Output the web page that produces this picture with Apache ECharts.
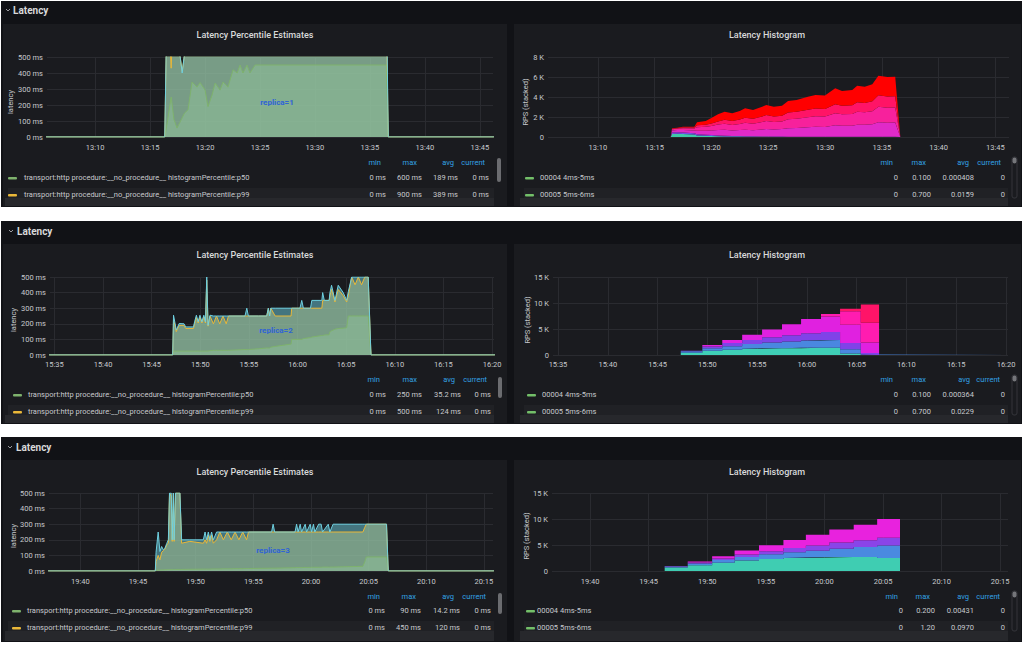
<!DOCTYPE html>
<html>
<head>
<meta charset="utf-8">
<title>Latency</title>
<script src="https://cdn.jsdelivr.net/npm/echarts@6/dist/echarts.min.js"></script>
<style>
html, body { margin: 0; padding: 0; background: #fff; }
#main { width: 1024px; height: 645px; }
</style>
</head>
<body>
<div id="main"></div>
<script>
// ---- replica=1 : latency percentiles (ms) ----
var lat1Time = ['13:05:00','13:16:20','13:16:33','13:16:55','13:17:10','13:17:27','13:17:42','13:17:55','13:18:08','13:18:27',
  '13:18:49','13:19:16','13:19:33','13:20:00','13:20:16','13:20:38','13:20:55','13:21:22','13:21:38','13:22:05',
  '13:22:33','13:22:55','13:23:11','13:23:27','13:23:49','13:24:05','13:24:33','13:36:30','13:36:40','13:47:00'];
var lat1P50 = [0,0,87,250,110,56,90,120,150,170, 344,312,340,293,190,262,337,293,344,312, 420,400,450,400,450,400,450,450,0,0];
var lat1P99 = [0,0,900,430,900,800,520,410,520,800, 850,800,820,800,780,800,820,800,850,800, 820,800,800,820,800,800,800,800,0,0];
var lat1P999 = [0,0,900,900,900,900,520,400,520,900, 900,900,900,900,900,900,900,900,900,900, 900,900,900,900,900,900,900,900,0,0];

// ---- replica=2 ----
var lat2Time = ['15:34:00','15:47:10','15:47:15','15:47:32','15:47:50','15:48:20','15:48:30','15:49:18','15:49:25','15:49:36',
  '15:49:47','15:49:58','15:50:10','15:50:22','15:50:32','15:50:40','15:50:48','15:51:00','15:51:21','15:51:40',
  '15:52:00','15:52:20','15:52:40','15:52:54','15:54:36','15:54:47','15:54:57','15:56:00','15:56:50','15:57:00',
  '15:57:08','15:57:15','15:57:42','15:59:20','15:59:24','16:00:15','16:00:26','16:00:36','16:01:20','16:01:28',
  '16:02:30','16:02:35','16:02:45','16:03:15','16:03:20','16:03:30','16:03:51','16:04:11','16:04:42','16:05:03',
  '16:05:13','16:05:34','16:05:55','16:06:15','16:06:35','16:06:55','16:07:16','16:07:33','16:21:00'];
var lat2P999 = [0,0,255,160,202,200,180,180,213,255, 213,255,213,255,213,500,190,255,250,250,
  250,250,250,250,250,300,250,250,250,300, 250,300,300,300,300,300,350,300,300,350,
  350,400,350,350,400,447,350,447,400,350, 405,500,500,500,500,500,500,0,0];
var lat2P99 = [0,0,230,150,190,190,170,170,200,240, 205,245,205,245,205,480,185,250,200,250,
  200,250,200,250,250,250,250,250,250,300, 250,300,250,250,300,300,300,300,300,300,
  300,350,350,350,380,420,340,420,380,340, 380,500,450,500,450,500,500,0,0];
var lat2P50 = [0,0,25,25,25,25,25,25,25,25, 25,25,25,25,25,25,25,28,30,30,
  30,30,30,30,35,35,35,40,45,45, 45,50,55,70,100,100,100,105,112,115,
  125,125,128,130,150,155,165,170,172,175, 250,250,250,250,250,250,250,0,0];

// ---- replica=3 ----
var lat3Time = ['19:37:00','19:46:30','19:46:34','19:46:45','19:46:54','19:47:03','19:47:12','19:47:20','19:47:30','19:47:38',
  '19:47:44','19:47:53','19:47:58','19:48:04','19:48:08','19:48:15','19:48:38','19:48:47','19:49:30','19:50:40',
  '19:50:49','19:50:57','19:51:06','19:51:14','19:51:23','19:51:32','19:51:49','19:52:06','19:52:24','19:52:45',
  '19:53:05','19:53:25','19:53:45','19:54:05','19:54:25','19:54:35','19:56:35','19:56:43','19:56:51','19:58:37',
  '19:58:45','19:58:53','19:59:04','19:59:11','19:59:30','19:59:37','19:59:56','20:00:03','20:00:13','20:00:20',
  '20:00:40','20:00:53','20:01:00','20:01:30','20:01:38','20:01:55','20:04:30','20:04:40','20:04:48','20:06:33',
  '20:06:42','20:16:00'];
var lat3P999 = [0,0,120,250,125,157,136,146,178,200, 500,500,200,500,200,500,500,200,200,200,
  250,200,250,200,250,200,250,250,250,250, 250,250,250,250,250,250,250,300,250,250,
  300,250,300,250,300,250,300,250,300,250, 300,300,250,300,250,300,300,300,300,300, 0,0];
var lat3P99 = [0,0,60,100,72,120,130,140,167,180, 500,480,190,500,190,500,500,178,190,178,
  200,178,230,190,230,178,200,250,200,250, 200,250,200,250,200,250,250,250,250,250,
  250,250,250,250,250,250,250,250,250,250, 250,250,250,250,250,250,250,280,300,300, 0,0];
var lat3P50 = [0,0,5,6,6,7,7,8,8,9, 9,9,9,10,10,10,10,10,11,12,
  12,12,12,12,13,13,13,13,14,14, 14,15,15,15,16,16,18,18,18,21,
  22,22,22,22,23,23,23,24,24,24, 24,24,25,25,25,25,30,60,90,90, 0,0];

// ---- histograms (RPS per bucket group, stacked) ----
var hist1Time = ['13:05:00','13:16:25','13:16:32','13:17:00','13:17:30','13:18:30','13:18:44','13:19:30','13:20:00','13:20:35',
  '13:21:10','13:21:50','13:22:30','13:22:58','13:23:40','13:24:28','13:24:50','13:25:30','13:26:13','13:26:45',
  '13:27:30','13:28:30','13:29:10','13:30:00','13:30:54','13:31:30','13:32:24','13:32:50','13:33:30','13:34:10',
  '13:34:42','13:35:30','13:36:11','13:36:38','13:47:00'];
var hist1Teal = [0,0,300,320,300,250,150,120,100,80, 60,50,40,30,30,20,20,10,10,0, 0,0,0,0,0,0,0,0,0,0, 0,0,0,0,0];
var hist1Purple = [0,0,150,150,150,120,120,100,100,80, 70,60,60,50,50,40,40,30,30,30, 20,20,20,20,20,20,20,20,20,20, 20,20,20,0,0];
var hist1Magenta = [0,0,200,220,250,280,350,400,450,550, 600,550,600,650,600,700,750,700,750,850, 880,950,1000,980,1150,1100,1100,1200,1200,1250, 1450,1400,1420,0,0];
var hist1Pink = [0,0,120,140,180,200,350,400,450,550, 600,550,600,700,650,750,800,750,760,900, 930,1000,1050,1040,1200,1150,1180,1300,1250,1300, 1550,1500,1500,0,0];
var hist1Crimson = [0,0,50,50,80,100,200,200,250,300, 400,400,450,500,500,550,590,570,580,670, 690,760,780,770,900,850,880,960,940,1000, 1150,1130,1130,0,0];
var hist1Red = [0,0,50,50,70,80,300,380,550,710, 800,760,850,940,870,970,1000,970,1000,1150, 1180,1300,1350,1340,1600,1480,1520,1650,1620,1700, 1960,1950,1960,0,0];

var hist2Time = ['15:34:00','15:47:20','15:49:30','15:51:30','15:53:30','15:55:30','15:57:30','15:59:25','16:01:25','16:03:20','16:05:25','16:07:15','16:21:00'];
var hist2Teal = [0,450,800,1000,1200,1300,1300,1400,1400,300,0,0,0];
var hist2Blue = [0,250,500,700,900,1100,1300,1400,1500,800,100,0,0];
var hist2Purple = [0,100,350,600,800,1000,1200,1400,1500,1200,300,0,0];
var hist2Magenta = [0,0,250,600,1000,1500,2100,2700,3000,3500,2000,0,0];
var hist2Pink = [0,0,0,0,0,0,0,0,500,2600,3800,0,0];
var hist2Crimson = [0,0,0,0,0,0,0,0,0,500,3500,0,0];

var hist3Time = ['19:36:00','19:46:22','19:48:20','19:50:25','19:52:20','19:54:25','19:56:30','19:58:25','20:00:25','20:02:30','20:04:30','20:06:27','20:16:00'];
var hist3Teal = [0,650,1100,1600,2000,2300,2500,2600,2700,2700,2500,0,0];
var hist3Blue = [0,200,350,500,700,900,1100,1300,1600,1900,2400,0,0];
var hist3Purple = [0,100,200,300,450,600,800,1000,1200,1300,1500,0,0];
var hist3Magenta = [0,0,200,450,800,1150,1550,2050,2500,3000,3600,0,0];

// ---- axis ranges / tick labels ----
var xRanges = [['13:05:37','13:46:12'], ['13:05:37','13:46:12'], ['15:34:33','16:20:12'], ['15:34:30','16:20:12'], ['19:37:17','20:15:47'], ['19:36:45','20:15:40']];
var xTicks1 = ['13:10','13:15','13:20','13:25','13:30','13:35','13:40','13:45'];
var xTicks2 = ['15:35','15:40','15:45','15:50','15:55','16:00','16:05','16:10','16:15','16:20'];
var xTicks3 = ['19:40','19:45','19:50','19:55','20:00','20:05','20:10','20:15'];
var yLatency = [0, 500, 100];
var yHist = [[0, 8000, 2000], [0, 15000, 5000], [0, 15000, 5000]];

// ---- legend texts ----
var latLegendNames = ['transport:http procedure:__no_procedure__ histogramPercentile:p50', 'transport:http procedure:__no_procedure__ histogramPercentile:p99'];
var latStats = [
  [['0 ms', '600 ms', '189 ms', '0 ms'], ['0 ms', '900 ms', '389 ms', '0 ms']],
  [['0 ms', '250 ms', '35.2 ms', '0 ms'], ['0 ms', '500 ms', '124 ms', '0 ms']],
  [['0 ms', '90 ms', '14.2 ms', '0 ms'], ['0 ms', '450 ms', '120 ms', '0 ms']]
];
var histLegendNames = ['00004 4ms-5ms', '00005 5ms-6ms'];
var histStats = [
  [['0', '0.100', '0.000408', '0'], ['0', '0.700', '0.0159', '0']],
  [['0', '0.100', '0.000364', '0'], ['0', '0.700', '0.0229', '0']],
  [['0', '0.200', '0.00431', '0'], ['0', '1.20', '0.0970', '0']]
];
var statHeads = ['min', 'max', 'avg', 'current'];
var replicaLabels = ['replica=1', 'replica=2', 'replica=3'];

// ---------------------------------------------------------------
var FONT = 'Roboto, "Open Sans", sans-serif';
var AXIS_TXT = '#c7c9cd';
var GRID_LINE = '#2a2b30';

function ts(s) { var p = s.split(':'); return Date.UTC(2021, 0, 1, +p[0], +p[1], +(p[2] || 0)); }
function pairs(times, vals) { return times.map(function (s, i) { return [ts(s), vals[i]]; }); }

var grids = [
  { left: 47, top: 57, width: 446, height: 80 },
  { left: 548, top: 57, width: 461, height: 80 },
  { left: 50, top: 277, width: 444, height: 78 },
  { left: 553, top: 277, width: 455, height: 78 },
  { left: 49, top: 493, width: 444, height: 78 },
  { left: 552, top: 493, width: 456, height: 78 }
];
var gridTicks = [xTicks1, xTicks1, xTicks2, xTicks2, xTicks3, xTicks3];
var labelGap = [6, 6, 5, 5, 6, 6];

// time axes carry the data; the 5-minute grid lines and labels are drawn as markLines
var xAxes = grids.map(function (gr, i) {
  return {
    type: 'time', gridIndex: i,
    min: ts(xRanges[i][0]), max: ts(xRanges[i][1]),
    axisLine: { show: false }, axisTick: { show: false },
    splitLine: { show: false }, axisLabel: { show: false }
  };
});

var yAxes = grids.map(function (gr, i) {
  var isLat = i % 2 === 0;
  var r = isLat ? yLatency : yHist[(i - 1) / 2];
  return {
    type: 'value', gridIndex: i, min: r[0], max: r[1], interval: r[2],
    axisLine: { show: false }, axisTick: { show: false },
    splitLine: { lineStyle: { color: GRID_LINE, width: 1 } },
    axisLabel: {
      color: AXIS_TXT, fontSize: 7.5, fontFamily: FONT, margin: 4,
      formatter: isLat ? function (v) { return v + ' ms'; } : function (v) { return v === 0 ? '0' : (v / 1000) + ' K'; }
    }
  };
});

var series = [];
grids.forEach(function (gr, i) {
  series.push({
    type: 'line', xAxisIndex: i, yAxisIndex: i, data: [], z: 1, silent: true,
    markLine: {
      z: 1, silent: true, symbol: ['none', 'none'], animation: false,
      lineStyle: { color: GRID_LINE, type: 'solid', width: 1 },
      label: { show: true, position: 'start', distance: labelGap[i], formatter: '{b}', color: AXIS_TXT, fontSize: 7.5, fontFamily: FONT },
      emphasis: { disabled: true },
      data: gridTicks[i].map(function (s) { return { name: s, xAxis: ts(s) }; })
    }
  });
});

// latency series
var latSets = [
  { time: lat1Time, p50: lat1P50, p99: lat1P99, p999: lat1P999 },
  { time: lat2Time, p50: lat2P50, p99: lat2P99, p999: lat2P999 },
  { time: lat3Time, p50: lat3P50, p99: lat3P99, p999: lat3P999 }
];
var latColors = { p50: '#7eb26d', p99: '#eab839', p999: '#6ed0e0' };
latSets.forEach(function (set, k) {
  ['p50', 'p99', 'p999'].forEach(function (key) {
    series.push({
      type: 'line', name: key, xAxisIndex: k * 2, yAxisIndex: k * 2, z: 2,
      data: pairs(set.time, set[key]), symbol: 'none', silent: true, clip: true,
      lineStyle: { width: 1, color: latColors[key] },
      areaStyle: { color: latColors[key], opacity: 0.5 }
    });
  });
});

// histogram series
var histSets = [
  { time: hist1Time, step: false, layers: [[hist1Teal, '#3ec9a8'], [hist1Purple, '#7a4be6'], [hist1Magenta, '#e02ac8'], [hist1Pink, '#f7219c'], [hist1Crimson, '#ff1466'], [hist1Red, '#ff0000']] },
  { time: hist2Time, step: 'end', layers: [[hist2Teal, '#3fcfb6'], [hist2Blue, '#4a87e0'], [hist2Purple, '#8042e8'], [hist2Magenta, '#e021e0'], [hist2Pink, '#ff1cb0'], [hist2Crimson, '#ff1468']] },
  { time: hist3Time, step: 'end', layers: [[hist3Teal, '#3fcdb2'], [hist3Blue, '#4a8ae0'], [hist3Purple, '#8a44e8'], [hist3Magenta, '#e822de']] }
];
histSets.forEach(function (set, k) {
  set.layers.forEach(function (layer) {
    series.push({
      type: 'line', xAxisIndex: k * 2 + 1, yAxisIndex: k * 2 + 1, stack: 'hist' + k, step: set.step, z: 2,
      data: pairs(set.time, layer[0]), symbol: 'none', silent: true,
      lineStyle: { width: 0, color: layer[1] },
      areaStyle: { color: layer[1], opacity: 1 }
    });
  });
});

// ---- dashboard chrome (panels, titles, legends) ----
var sections = [
  { top: 1, bottom: 207, chev: 6, hx: 13, headY: 10, titleY: 35, yName: [10, 102, 525], annot: [277, 102],
    legHead: 162, row1: 177, row2: 194, lMark: 8, lText: 24, lCols: [386, 422, 458, 489], lHead: [381, 417, 454, 485], lScroll: [497, 158, 24],
    rMark: 525, rText: 540, rCols: [898, 931, 974, 1005], rHead: [893, 926, 969, 1001], rScroll: [1012, 157] },
  { top: 221, bottom: 424, chev: 9, hx: 17, headY: 231, titleY: 255, yName: [13, 320, 527], annot: [276, 330],
    legHead: 379, row1: 394, row2: 411, lMark: 13, lText: 28, lCols: [386, 422, 461, 491], lHead: [380, 417, 455, 487], lScroll: [498, 377, 21],
    rMark: 527, rText: 542, rCols: [898, 931, 974, 1005], rHead: [893, 926, 970, 1000], rScroll: [1012, 375] },
  { top: 437, bottom: 642, chev: 8, hx: 16, headY: 447, titleY: 472, yName: [13, 536, 526], annot: [273, 550],
    legHead: 596, row1: 610, row2: 627, lMark: 12, lText: 27, lCols: [385, 421, 460, 491], lHead: [380, 416, 454, 486], lScroll: [498, 593, 21],
    rMark: 526, rText: 537, rCols: [903, 935, 974, 1005], rHead: [898, 930, 969, 1000], rScroll: [1012, 591] }
];

var g = [];
function rect(x, y, w, h, fill, r, z) {
  g.push({ type: 'rect', silent: true, z: z == null ? -10 : z, shape: { x: x, y: y, width: w, height: h, r: r || 0 }, style: { fill: fill } });
}
function text(x, y, s, font, fill, align, rot) {
  g.push({ type: 'text', silent: true, z: 100, x: x, y: y, rotation: rot || 0,
    style: { text: s, font: font, fill: fill, textAlign: align || 'left', textVerticalAlign: 'middle' } });
}

sections.forEach(function (s, k) {
  var h = s.bottom - s.top;
  rect(1, s.top, 1021, h, '#111216', 0, -12);
  rect(3, s.top + 23, 504, h - 24, '#1a1b1f', 0, -11);
  rect(514, s.top + 23, 507, h - 24, '#1a1b1f', 0, -11);
  g.push({ type: 'polyline', silent: true, z: 100,
    shape: { points: [[s.chev, s.headY - 1], [s.chev + 2, s.headY + 1], [s.chev + 4, s.headY - 1]] },
    style: { stroke: '#9a9ba0', lineWidth: 1, fill: null } });
  text(s.hx, s.headY, 'Latency', 'bold 10px ' + FONT, '#d8d9da');

  text(255, s.titleY, 'Latency Percentile Estimates', '500 9px ' + FONT, '#d8d9da', 'center');
  text(767, s.titleY, 'Latency Histogram', '500 9px ' + FONT, '#d8d9da', 'center');
  text(s.yName[0], s.yName[1], 'latency', '7.5px ' + FONT, AXIS_TXT, 'center', Math.PI / 2);
  text(s.yName[2], s.yName[1], 'RPS (stacked)', '7.5px ' + FONT, AXIS_TXT, 'center', Math.PI / 2);
  text(s.annot[0], s.annot[1], replicaLabels[k], 'bold 8px ' + FONT, '#2f63d6', 'center');

  // legend row band + bottom strip
  rect(8, s.row2 - 6, 486, 10, '#202125', 0, -9);
  rect(5, s.row2 + 4, 489, s.bottom - s.row2 - 5, '#27282c', 0, -9);
  rect(524, s.row2 - 6, 484, 10, '#202125', 0, -9);
  rect(520, s.row2 + 4, 488, s.bottom - s.row2 - 5, '#27282c', 0, -9);

  statHeads.forEach(function (hd, c) {
    text(s.lHead[c], s.legHead, hd, '7.5px ' + FONT, '#33a2e5', 'right');
    text(s.rHead[c], s.legHead, hd, '7.5px ' + FONT, '#33a2e5', 'right');
  });
  [s.row1, s.row2].forEach(function (ry, r) {
    rect(s.lMark, ry, 9, 2.5, r === 0 ? latColors.p50 : latColors.p99, 1, 50);
    text(s.lText, ry, latLegendNames[r], '7.5px ' + FONT, '#c7c9cd');
    rect(s.rMark, ry, 9, 2.5, '#73bf69', 1, 50);
    text(s.rText, ry, histLegendNames[r], '7.5px ' + FONT, '#c7c9cd');
    for (var c = 0; c < 4; c++) {
      text(s.lCols[c], ry, latStats[k][r][c], '7.5px ' + FONT, '#c7c9cd', 'right');
      text(s.rCols[c], ry, histStats[k][r][c], '7.5px ' + FONT, '#c7c9cd', 'right');
    }
  });

  // scrollbars
  rect(s.lScroll[0], s.lScroll[1], 4, s.lScroll[2], '#6b6c70', 2, 50);
  g.push({ type: 'rect', silent: true, z: 40, shape: { x: s.rScroll[0], y: s.rScroll[1], width: 5, height: s.row2 + 4 - s.rScroll[1], r: 2 },
    style: { fill: 'none', stroke: '#34353a', lineWidth: 1 } });
  rect(s.rScroll[0] + 0.5, s.rScroll[1] + 0.5, 4, 6, '#75767a', 2, 50);
});

var chart = echarts.init(document.getElementById('main'), null, { renderer: 'svg' });
chart.setOption({
  backgroundColor: '#ffffff',
  animation: false,
  useUTC: true,
  textStyle: { fontFamily: FONT },
  grid: grids,
  xAxis: xAxes,
  yAxis: yAxes,
  series: series,
  graphic: { elements: g }
});
</script>
</body>
</html>
